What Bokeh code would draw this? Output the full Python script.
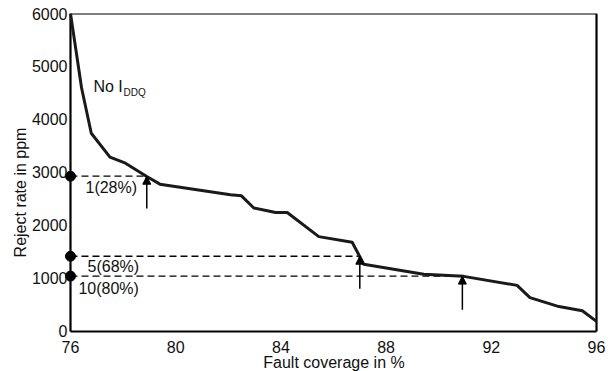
from bokeh.plotting import figure
from bokeh.models import Range1d, FixedTicker, Arrow, NormalHead
from bokeh.core.properties import value
from bokeh.embed import file_html
from bokeh.resources import INLINE

# Curve: fault coverage (%) vs reject rate (ppm), no IDDQ
coverage = [76.0, 76.42, 76.79, 77.5, 78.09, 78.9, 79.4, 82.08, 82.5, 82.97, 83.8, 84.24,
            85.44, 86.71, 87.15, 89.43, 90.95, 92.98, 93.47, 94.57, 95.46, 96.0]
reject = [6000, 4600, 3740, 3290, 3175, 2925, 2780, 2580, 2560, 2330, 2245, 2245,
          1790, 1685, 1270, 1080, 1040, 870, 640, 470, 390, 190]

# IDDQ vectors: level reached, coverage where reached, arrow base
iddq_levels = [2930, 1420, 1045]
iddq_cov = [78.9, 87.0, 90.9]
arrow_base = [2320, 805, 410]
iddq_labels = ["1(28%)", "5(68%)", "10(80%)"]
label_x = [76.57, 76.65, 76.3]
label_y = [2720, 1225, 810]

x_ticks = [76, 80, 84, 88, 92, 96]
y_ticks = [0, 1000, 2000, 3000, 4000, 5000, 6000]
x_min, x_max = 76, 96
y_min, y_max = 0, 6000

FONT = "Liberation Sans"

# The frame extends a little beyond the data box so that the dots on the
# y axis and the x-axis labels (axis fixed at y=0) are not clipped.
p = figure(width=611, height=371, output_backend="svg", toolbar_location=None,
           x_range=Range1d(75.62, 96.418), y_range=Range1d(-755, y_max),
           min_border_left=60, min_border_right=4, min_border_top=13, min_border_bottom=0)
p.grid.visible = False
p.outline_line_color = None
p.background_fill_color = "white"
p.border_fill_color = "white"

for ax in (p.xaxis, p.yaxis):
    ax.axis_line_color = None
    ax.major_tick_line_color = None
    ax.minor_tick_line_color = None
    ax.major_tick_out = 0
    ax.major_tick_in = 0
    ax.minor_tick_out = 0
    ax.minor_tick_in = 0
    ax.major_label_text_font = FONT
    ax.major_label_text_font_size = "16px"
    ax.major_label_text_color = "#111111"
    ax.axis_label_text_font = FONT
    ax.axis_label_text_font_size = "16px"
    ax.axis_label_text_font_style = "normal"
    ax.axis_label_text_color = "#111111"

p.xaxis.fixed_location = 0
p.xaxis.ticker = FixedTicker(ticks=x_ticks)
p.yaxis.ticker = FixedTicker(ticks=y_ticks)
p.xaxis.axis_label = "Fault coverage in %"
p.yaxis.axis_label = "Reject rate in ppm"
p.xaxis.major_label_standoff = 10
p.xaxis.axis_label_standoff = -3
p.yaxis.major_label_standoff = -7
p.yaxis.axis_label_standoff = 0

# plot box (axes + frame)
p.line([x_min, x_min], [y_min, y_max], line_color="black", line_width=2.2)
p.line([x_min, x_max], [y_min, y_min], line_color="black", line_width=2.2)
p.line([x_min, x_max], [y_max, y_max], line_color="black", line_width=2.2)
p.line([x_max, x_max], [y_min, y_max], line_color="black", line_width=2.2)

# dashed level lines
for lv, cx in zip(iddq_levels, iddq_cov):
    p.line([x_min, cx], [lv, lv], line_color="black", line_width=1.3, line_dash="7 4")

# main curve
p.line(coverage, reject, line_color="#1a1a1a", line_width=3)

# dots on y axis
p.scatter([x_min] * len(iddq_levels), iddq_levels, size=10, color="black")

# arrows
for cx, base, lv in zip(iddq_cov, arrow_base, iddq_levels):
    p.add_layout(Arrow(end=NormalHead(size=8, fill_color="black", line_color="black"),
                       x_start=cx, y_start=base, x_end=cx, y_end=lv,
                       line_color="black", line_width=1.5))

# labels
p.text(label_x, label_y, text=iddq_labels, text_font=value(FONT), text_font_size="16px",
       text_baseline="middle", text_align="left", text_color="#111111")

p.text([76.87], [4630], text=["No I"], text_font=value(FONT), text_font_size="16px",
       text_baseline="middle", text_align="left", text_color="#111111")
p.text([78.02], [4500], text=["DDQ"], text_font=value(FONT), text_font_size="10px",
       text_baseline="middle", text_align="left", text_color="#111111")

open("out.html", "w").write(file_html(p, INLINE))
